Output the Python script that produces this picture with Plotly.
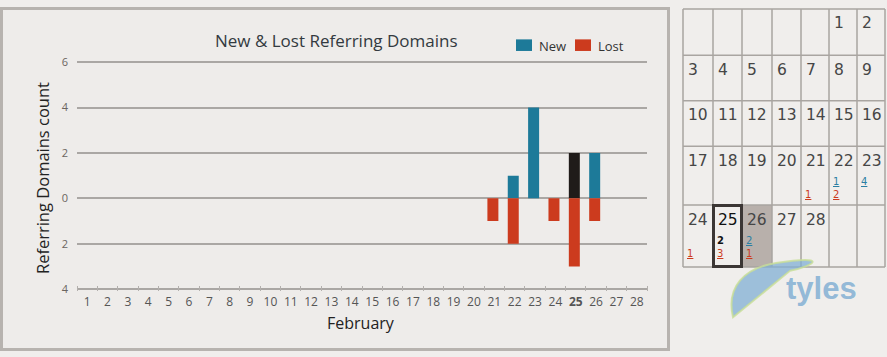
import plotly.graph_objects as go

# ---------------- data ----------------
days = list(range(1, 29))
day_labels = [str(d) for d in days]
new_counts = [0, 0, 0, 0, 0, 0, 0, 0, 0, 0, 0, 0, 0, 0,
              0, 0, 0, 0, 0, 0, 0, 1, 4, 0, 2, 2, 0, 0]
lost_counts = [0, 0, 0, 0, 0, 0, 0, 0, 0, 0, 0, 0, 0, 0,
               0, 0, 0, 0, 0, 0, 1, 2, 0, 1, 3, 1, 0, 0]
selected_day = 25
y_tick_vals = [-4, -2, 0, 2, 4, 6]
y_tick_text = ["4", "2", "0", "2", "4", "6"]
series_names = ["New", "Lost"]
week_offset = 5  # Feb 1 falls on column index 5 (Sat, Monday-first week)

# ---------------- styling ----------------
W, H = 887, 357
BLUE = "#1d7a99"
RED = "#cc3b1e"
BLACK = "#1f1b19"
GRID = "#aaa7a4"


def X(px):
    return px / W


def Y(py):
    return 1 - py / H


new_colors = [BLACK if d == selected_day else BLUE for d in days]
tick_text = [f"<b>{t}</b>" if int(t) == selected_day else t for t in day_labels]

fig = go.Figure()
fig.add_trace(go.Bar(x=days, y=new_counts, name=series_names[0],
                     marker=dict(color=new_colors, line=dict(width=0)),
                     width=0.54, offset=-0.34, showlegend=False))
fig.add_trace(go.Bar(x=days, y=[-v for v in lost_counts], name=series_names[1],
                     marker=dict(color=RED, line=dict(width=0)),
                     width=0.54, offset=-0.34, showlegend=False))

shapes = []
annotations = []

# left panel frame
shapes.append(dict(type="rect", xref="paper", yref="paper",
                   x0=X(1.5), x1=X(668.5), y0=Y(354.5), y1=Y(1.5),
                   line=dict(color="#b7b3af", width=3), fillcolor="#eeecea",
                   layer="below"))

# titles
annotations.append(dict(text="New & Lost Referring Domains", xref="paper", yref="paper",
                        x=X(336), y=Y(35), showarrow=False, xanchor="center", yanchor="middle",
                        font=dict(family="Open Sans", size=17, color="#333a40")))
annotations.append(dict(text="Referring Domains count", xref="paper", yref="paper",
                        x=X(42), y=Y(177), showarrow=False, textangle=-90,
                        xanchor="center", yanchor="middle",
                        font=dict(family="Open Sans", size=16.5, color="#222222")))
annotations.append(dict(text="February", xref="paper", yref="paper",
                        x=X(361), y=Y(327), showarrow=False, xanchor="center", yanchor="middle",
                        font=dict(family="Open Sans", size=16, color="#222222")))

# legend (drawn manually for exact placement)
for name, col, sx, tx in [(series_names[0], BLUE, 516, 537), (series_names[1], RED, 575, 596)]:
    shapes.append(dict(type="rect", xref="paper", yref="paper",
                       x0=X(sx), x1=X(sx + 16), y0=Y(45.5), y1=Y(33.5),
                       line=dict(width=0), fillcolor=col))
    annotations.append(dict(text=name, xref="paper", yref="paper",
                            x=X(tx), y=Y(40), showarrow=False, xanchor="left", yanchor="middle",
                            font=dict(family="Open Sans", size=13, color="#333333")))

# ---------------- calendar ----------------
col_x = [683, 713, 742, 772, 801, 829, 857, 885]
row_y = [2, 50, 97, 144, 205, 269]

for d in days:
    idx = d - 1 + week_offset
    r, c = idx // 7, idx % 7
    if d == selected_day + 1:
        shapes.append(dict(type="rect", xref="paper", yref="paper",
                           x0=X(col_x[c]), x1=X(col_x[c + 1]),
                           y0=Y(row_y[r + 1]), y1=Y(row_y[r]),
                           line=dict(width=0), fillcolor="#b8b0ab", layer="below"))

for cx in col_x:
    shapes.append(dict(type="line", xref="paper", yref="paper",
                       x0=X(cx), x1=X(cx), y0=Y(row_y[-1]), y1=Y(row_y[0]),
                       line=dict(color="#a9a5a1", width=1.5), layer="below"))
for ry in row_y:
    shapes.append(dict(type="line", xref="paper", yref="paper",
                       x0=X(col_x[0]), x1=X(col_x[-1]), y0=Y(ry), y1=Y(ry),
                       line=dict(color="#a9a5a1", width=1.5), layer="below"))

for d, n, l in zip(days, new_counts, lost_counts):
    idx = d - 1 + week_offset
    r, c = idx // 7, idx % 7
    x0, top = col_x[c], row_y[r]
    annotations.append(dict(text=str(d), xref="paper", yref="paper",
                            x=X(x0 + 3), y=Y(top + 15), showarrow=False,
                            xanchor="left", yanchor="middle",
                            font=dict(family="DejaVu Sans", size=15.5,
                                      color="#111111" if d == selected_day else "#464646")))
    if n:
        if d == selected_day:
            txt, col = f"<b>{n}</b>", "#111111"
        else:
            txt, col = f"<u>{n}</u>", "#2b7fa3"
        annotations.append(dict(text=txt, xref="paper", yref="paper",
                                x=X(x0 + 7), y=Y(top + 37), showarrow=False,
                                xanchor="center", yanchor="middle",
                                font=dict(family="DejaVu Sans", size=10, color=col)))
    if l:
        annotations.append(dict(text=f"<u>{l}</u>", xref="paper", yref="paper",
                                x=X(x0 + 7), y=Y(top + 50), showarrow=False,
                                xanchor="center", yanchor="middle",
                                font=dict(family="DejaVu Sans", size=10, color="#cc3b1e")))
    if d == selected_day:
        shapes.append(dict(type="rect", xref="paper", yref="paper",
                           x0=X(x0 + 0.5), x1=X(col_x[c + 1] - 0.5),
                           y0=Y(row_y[r + 1] - 0.5), y1=Y(top + 0.5),
                           line=dict(color="#3b3634", width=3)))


def path_from(items):
    out = []
    for item in items:
        if isinstance(item, str):
            out.append(item)
        else:
            out.append(f"{X(item[0]):.4f},{Y(item[1]):.4f}")
    return " ".join(out)


leaf = path_from(["M", (733, 321), "C", (726, 290), (744, 270), (776, 265),
                  (806, 259), (824, 250), (832, 234),
                  "C", (831, 256), (814, 268), (790, 273),
                  (768, 278), (758, 300), (745, 318), "Z"])
shapes.append(dict(type="path", xref="paper", yref="paper", path=leaf,
                   fillcolor="rgba(130,175,212,0.75)",
                   line=dict(color="rgba(200,222,150,0.8)", width=2)))
annotations.append(dict(text="<b>tyles</b>", xref="paper", yref="paper",
                        x=X(821), y=Y(291), showarrow=False, xanchor="center", yanchor="middle",
                        font=dict(family="Liberation Sans", size=31, color="rgba(135,178,212,0.9)")))

# y range padded slightly so the gridlines at 6 and -4 are drawn
pad = 0.06
px_per_unit = (292 - 57) / 10
fig.update_layout(
    width=W, height=H,
    margin=dict(l=0, r=0, t=0, b=0),
    paper_bgcolor="#f0eeec",
    plot_bgcolor="rgba(0,0,0,0)",
    barmode="relative",
    showlegend=False,
    xaxis=dict(domain=[X(77), X(647)], range=[0.5, 28.5], tickmode="array",
               tickvals=days, ticktext=tick_text, showgrid=False, zeroline=False,
               showline=False, ticks="", ticklabelstandoff=2,
               tickfont=dict(family="Open Sans", size=12, color="#555555"),
               minor=dict(ticks="inside", tick0=0.5, dtick=1, ticklen=5,
                          tickcolor="#b3b0ad", tickwidth=1, showgrid=False)),
    yaxis=dict(domain=[Y(292 + pad * px_per_unit), Y(57 - pad * px_per_unit)],
               range=[-4 - pad, 6 + pad], tickmode="array",
               tickvals=y_tick_vals, ticktext=y_tick_text, showgrid=True,
               gridcolor=GRID, gridwidth=2, zeroline=False, showline=False,
               ticks="", ticklabelstandoff=8,
               tickfont=dict(family="Open Sans", size=11, color="#6a6560")),
    shapes=shapes,
    annotations=annotations,
)

fig.write_html("out.html", config={"displayModeBar": False},
               post_script="document.body.style.margin='0';document.body.style.overflow='hidden';")
